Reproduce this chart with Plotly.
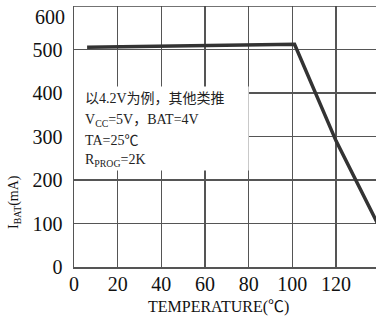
import plotly.graph_objects as go

temp = [6, 101, 120, 140]
ibat = [505, 512, 290, 90]

x_ticks = [0, 20, 40, 60, 80, 100, 120]
y_ticks = [0, 100, 200, 300, 400, 500, 600]
y_ticktext = ["0", "100", "200", "300", "400", "500", ""]
top_label = y_ticks[-1]

note_lines = ["以4.2V为例，其他类推",
              "V<sub>CC</sub>=5V，BAT=4V",
              "TA=25℃",
              "R<sub>PROG</sub>=2K"]
note_y = [388, 337, 291, 245]

FONT = "Liberation Serif, Times New Roman, Noto Sans CJK SC, serif"

fig = go.Figure()
fig.add_trace(go.Scatter(x=temp, y=ibat, mode="lines",
                         line=dict(color="#333333", width=3.5),
                         showlegend=False, hoverinfo="skip"))

fig.add_shape(type="rect", xref="x", yref="y", x0=0, x1=80, y0=222, y1=415,
              fillcolor="white", line=dict(width=0), layer="above")
fig.add_shape(type="line", xref="paper", yref="y", x0=0, x1=1, y0=600, y1=600,
              line=dict(color="#444444", width=1.5), layer="above")

for t, yy in zip(note_lines, note_y):
    fig.add_annotation(x=4, y=yy, xref="x", yref="y", text=t, showarrow=False,
                       xanchor="left", yanchor="middle",
                       font=dict(family=FONT, size=14, color="#222222"))

# top tick label sits lower in the reference (no room above the frame)
fig.add_annotation(x=0, y=top_label, xref="paper", yref="y", text=str(top_label),
                   showarrow=False, xanchor="right", yanchor="middle",
                   xshift=-7, yshift=-11,
                   font=dict(family=FONT, size=20, color="#111111"))

fig.add_annotation(x=0.477, y=-40 / 261, xref="paper", yref="paper",
                   text="TEMPERATURE(℃)", showarrow=False,
                   xanchor="center", yanchor="middle",
                   font=dict(family=FONT, size=16, color="#111111"))
fig.add_annotation(x=-60 / 302, y=65 / 261, xref="paper", yref="paper",
                   text="I<sub>BAT</sub>(mA)", showarrow=False, textangle=-90,
                   xanchor="center", yanchor="middle",
                   font=dict(family=FONT, size=14, color="#111111"))

fig.update_layout(
    width=376, height=318,
    margin=dict(l=74, r=0, t=6, b=51, autoexpand=False),
    paper_bgcolor="white", plot_bgcolor="white",
    font=dict(family=FONT, color="#111111"),
    xaxis=dict(range=[0, 138.3], tickvals=x_ticks, showgrid=True, automargin=False,
               gridcolor="#555555", gridwidth=1.5, zeroline=False,
               showline=True, linecolor="#555555", linewidth=1.5,
               ticks="", tickfont=dict(size=20, family=FONT),
               ticklabelstandoff=-2),
    yaxis=dict(range=[0, 600], tickvals=y_ticks, ticktext=y_ticktext, showgrid=True,
               automargin=False,
               gridcolor="#555555", gridwidth=1.5, zeroline=False,
               showline=True, linecolor="#555555", linewidth=1.5,
               ticks="", tickfont=dict(size=20, family=FONT),
               ticklabelstandoff=6, ticklabeloverflow="allow"),
)

fig.write_html("out.html", config={"displayModeBar": False, "staticPlot": True},
               post_script="document.body.style.margin='0';document.body.style.overflow='hidden';")
